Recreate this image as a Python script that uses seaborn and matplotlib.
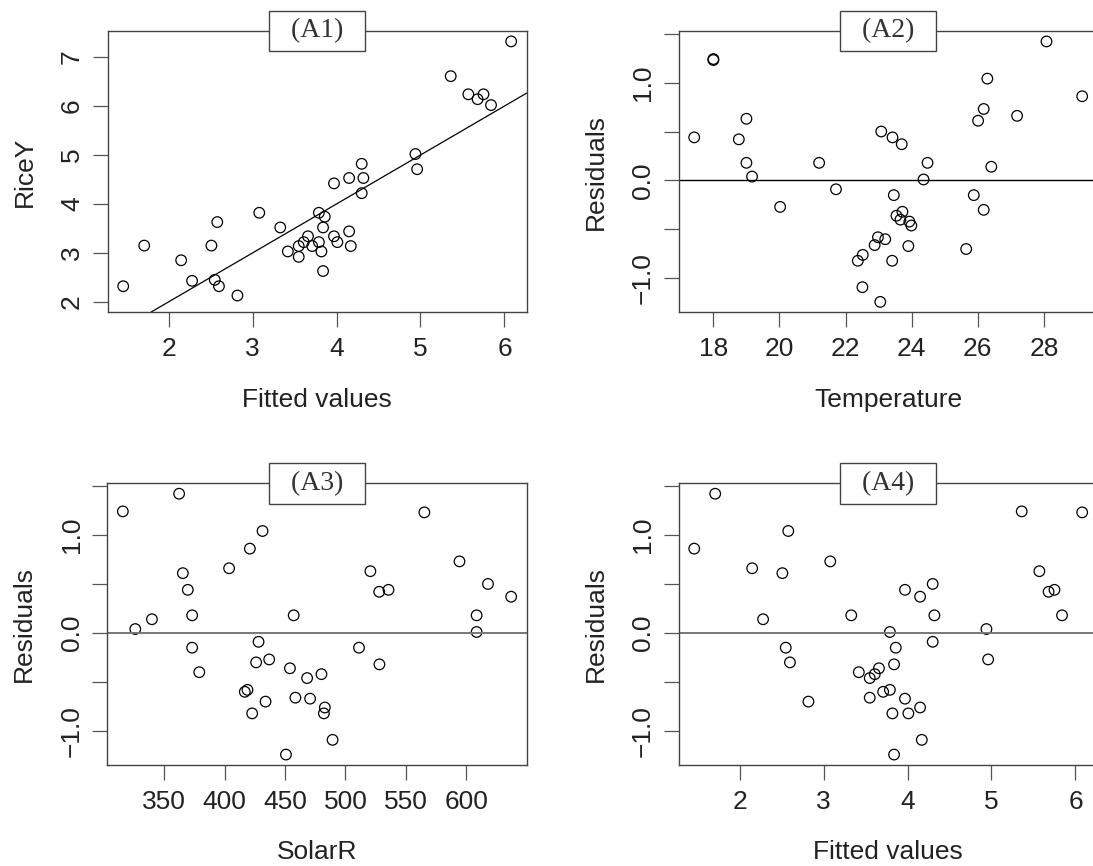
import numpy as np
import pandas as pd
import matplotlib
matplotlib.use('Agg')
import matplotlib.pyplot as plt
import seaborn as sns

fitted = [1.46, 1.71, 2.15, 2.28, 2.51, 2.58, 2.55, 2.60, 2.82, 3.08,
          3.33, 3.42, 3.55, 3.55, 3.61, 3.66, 3.71, 3.79, 3.79, 3.86,
          3.84, 3.82, 3.84, 3.97, 3.97, 4.01, 4.15, 4.15, 4.17, 4.30,
          4.32, 4.30, 4.94, 4.96, 5.36, 5.57, 5.68, 5.75, 5.84, 6.08]
rice_y = [2.32, 3.15, 2.85, 2.43, 3.15, 3.63, 2.45, 2.32, 2.13, 3.82,
          3.52, 3.03, 3.14, 2.92, 3.22, 3.34, 3.14, 3.82, 3.22, 3.74,
          3.52, 3.03, 2.63, 4.42, 3.34, 3.22, 4.53, 3.44, 3.14, 4.82,
          4.53, 4.22, 5.02, 4.71, 6.61, 6.24, 6.14, 6.24, 6.02, 7.32]
residuals = [0.86, 1.42, 0.66, 0.14, 0.61, 1.04, -0.15, -0.30, -0.70, 0.73,
             0.18, -0.40, -0.46, -0.66, -0.42, -0.36, -0.60, 0.01, -0.58, -0.15,
             -0.32, -0.82, -1.24, 0.44, -0.67, -0.82, 0.37, -0.76, -1.09, 0.50,
             0.18, -0.09, 0.04, -0.27, 1.24, 0.63, 0.42, 0.44, 0.18, 1.23]
temperature = [29.16, 28.08, 27.19, 26.41, 26.01, 26.29, 25.88, 26.18, 25.65, 26.18,
               24.48, 23.66, 23.99, 22.88, 23.93, 23.54, 23.20, 24.36, 22.98, 23.46,
               23.72, 22.37, 23.05, 23.42, 23.90, 23.41, 23.70, 22.52, 22.51, 23.08,
               21.20, 21.71, 19.17, 20.02, 18.00, 19.00, 18.77, 17.42, 19.00, 18.00]
solar_r = [420.8, 362.2, 403.6, 339.7, 365.3, 431.3, 373.0, 426.0, 433.8, 594.4,
           457.1, 378.9, 468.2, 458.5, 480.1, 454.0, 416.6, 608.6, 418.8, 511.2,
           528.1, 422.7, 450.7, 535.6, 470.7, 482.1, 637.2, 482.9, 489.3, 618.0,
           373.0, 428.0, 325.9, 436.8, 315.6, 520.6, 527.9, 369.4, 608.6, 565.3]

fit_ticks = [2, 3, 4, 5, 6]
rice_ticks = [2, 3, 4, 5, 6, 7]
temp_ticks = [18, 20, 22, 24, 26, 28]
solar_ticks = [350, 400, 450, 500, 550, 600]
resid_ticks = [-1.0, -0.5, 0.0, 0.5, 1.0, 1.5]
resid_labels = ['\u22121.0', '', '0.0', '', '1.0', '']

df = pd.DataFrame({'Fitted': fitted, 'RiceY': rice_y, 'Residuals': residuals,
                   'Temperature': temperature, 'SolarR': solar_r})

sns.set_style('white')
plt.rcParams['font.family'] = ['Liberation Sans', 'DejaVu Sans']

fig = plt.figure(figsize=(10.93, 8.66), dpi=100)

W, H = 1093, 866
def box(left, top, right, bottom):
    return [left / W, 1 - bottom / H, (right - left) / W, (bottom - top) / H]

panels = [
    ('(A1)', 'Fitted', 'RiceY', 'Fitted values', 'RiceY', fit_ticks, rice_ticks,
     [str(t) for t in rice_ticks], box(107.7, 31, 526.7, 312.3), 'diag'),
    ('(A2)', 'Temperature', 'Residuals', 'Temperature', 'Residuals', temp_ticks,
     resid_ticks, resid_labels, box(678.7, 31, 1097.7, 312.3), 'black'),
    ('(A3)', 'SolarR', 'Residuals', 'SolarR', 'Residuals', solar_ticks,
     resid_ticks, resid_labels, box(107.3, 483.3, 526.7, 765), 'grey'),
    ('(A4)', 'Fitted', 'Residuals', 'Fitted values', 'Residuals', fit_ticks,
     resid_ticks, resid_labels, box(678.7, 483.3, 1097.7, 765), 'grey'),
]

for title, xcol, ycol, xlab, ylab, xt, yt, ytl, pos, ref in panels:
    ax = fig.add_axes(pos)
    sns.scatterplot(data=df, x=xcol, y=ycol, ax=ax, s=58, marker='o',
                    facecolors='none', edgecolor='black', linewidth=0.9)
    ax.margins(0.04)
    ax.autoscale_view()
    if ref == 'diag':
        ax.axline((2, 2), slope=1, color='black', lw=0.9)
    elif ref == 'black':
        ax.axhline(0, color='black', lw=1.0)
    else:
        ax.axhline(0, color='#777777', lw=1.4)

    ax.set_xticks(xt)
    ax.set_xticklabels([str(t) for t in xt], fontsize=19, color='#222222')
    ax.set_yticks(yt)
    ax.set_yticklabels(ytl, fontsize=19, color='#222222', rotation=90, va='center')
    ax.tick_params(axis='both', direction='out', length=11, width=0.9,
                   color='#555555', bottom=True, left=True)
    ax.tick_params(axis='x', pad=7)
    ax.tick_params(axis='y', pad=6)
    ax.set_xlabel(xlab, fontsize=19, color='#222222', labelpad=19)
    ax.set_ylabel(ylab, fontsize=19, color='#222222', labelpad=17)
    for sp in ax.spines.values():
        sp.set_color('#444444')
        sp.set_linewidth(1.0)

    ax.text(0.5, 1.0, '  ' + title + '  ', transform=ax.transAxes, ha='center', va='center',
            fontsize=20, family=['Liberation Serif', 'DejaVu Serif'], color='#333333',
            bbox=dict(boxstyle='square,pad=0.28', fc='white', ec='#444444', lw=1.0),
            zorder=5)

fig.savefig('out.png', dpi=100)
